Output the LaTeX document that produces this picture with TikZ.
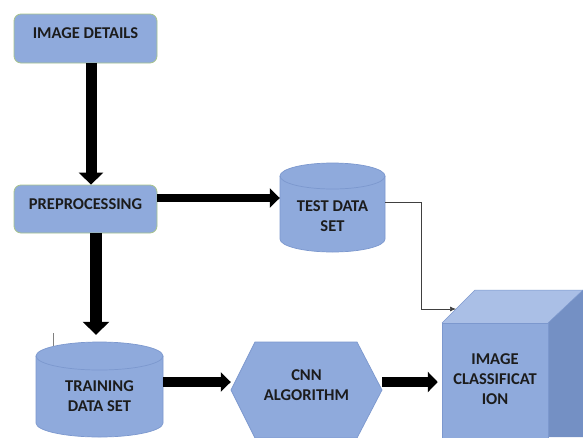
\documentclass[tikz,border=0pt]{standalone}
\usepackage{fontspec}
\setmainfont{Carlito}
\usetikzlibrary{arrows.meta,calc}
\definecolor{boxblue}{HTML}{8FAADC}
\definecolor{boxtop}{HTML}{AABFE6}
\definecolor{boxside}{HTML}{7490C4}
\definecolor{cylline}{HTML}{7C98CE}
\definecolor{greenline}{HTML}{A9C48C}
\definecolor{txt}{HTML}{1C1C1C}
\begin{document}
\begin{tikzpicture}[x=1pt,y=-1pt,
  rbox/.style={draw=greenline,line width=0.8pt,fill=boxblue,rounded corners=7pt,minimum width=143pt,minimum height=49pt,inner sep=0pt},
  anchorbox/.style={inner sep=0pt,draw=none},
  lbl/.style={font=\fontsize{16.5}{20}\selectfont\bfseries,text=txt,align=center,inner sep=0pt},
  shape3d/.style={fill=boxblue,draw=cylline,line width=0.7pt},
  bigarrow/.style={line width=#1,-{Triangle[length=12pt,width=24pt]}},
  thinarrow/.style={draw=black!75,line width=0.7pt,-{Latex[length=6pt,width=5pt]}}]
\path[use as bounding box,fill=white] (0,0) rectangle (583,437);

% rounded boxes
\node[rbox] (details) at (85.5,38.5) {};
\node[lbl] at ([yshift=5pt]details.center) {IMAGE DETAILS};
\node[rbox,minimum height=48pt] (prep) at (85.5,209) {};
\node[lbl] at ([yshift=5pt]prep.center) {PREPROCESSING};

% test data set cylinder
\path[shape3d] (280,176) -- (280,239) arc(180:0:52.5 and 13) -- (385,176) arc(0:-180:52.5 and 13) -- cycle;
\draw[cylline,line width=0.7pt] (280,176) arc(180:0:52.5 and 13);
\node[anchorbox,minimum width=105pt,minimum height=89pt] (test) at (332.5,207.5) {};
\node[lbl] at ([yshift=-9pt]test.center) {TEST DATA\\SET};

% training data set cylinder
\path[shape3d] (36,356) -- (36,423) arc(180:0:63.5 and 14) -- (163,356) arc(0:-180:63.5 and 14) -- cycle;
\draw[cylline,line width=0.7pt] (36,356) arc(180:0:63.5 and 14);
\node[anchorbox,minimum width=127pt,minimum height=95pt] (train) at (99.5,389.5) {};
\node[lbl] at ([yshift=-7pt]train.center) {TRAINING\\DATA SET};
\draw[gray,line width=0.5pt] (53,333) -- (53,346);

% CNN hexagon
\path[shape3d] (231,390) -- (255,342) -- (357,342) -- (382,390) -- (357,438) -- (255,438) -- cycle;
\node[anchorbox,minimum width=151pt,minimum height=96pt] (cnn) at (306.5,390) {};
\node[lbl] at ([yshift=5pt]cnn.center) {CNN\\ALGORITHM};

% cube
\fill[boxtop] (442,323) -- (475,290) -- (583,290) -- (548,323) -- cycle;
\fill[boxside] (548,323) -- (583,290) -- (583,437) -- (548,437) -- cycle;
\draw[cylline,line width=0.5pt] (442,323) -- (475,290) -- (583,290);
\draw[cylline,line width=0.5pt] (548,323) -- (583,290);
\node[anchorbox,fill=boxblue,draw=cylline,line width=0.5pt,minimum width=106pt,minimum height=116pt] (cube) at (495,381) {};
\coordinate (cubetop) at (456,309);
\node[lbl] at ([yshift=2pt]cube.center) {IMAGE\\CLASSIFICAT\\ION};

% connectors
\draw[bigarrow=11pt] ([xshift=5.5pt]details.south) -- ([xshift=5.5pt]details.south |- prep.north);
\draw[bigarrow=8pt,-{Triangle[length=10pt,width=19pt]}] ([yshift=11pt]prep.east) -- ([yshift=11pt]prep.east -| test.west);
\draw[bigarrow=12pt,shorten >=7pt,-{Triangle[length=13pt,width=26pt]}] ([xshift=10.5pt]prep.south) -- ([xshift=10.5pt]prep.south |- train.north);
\draw[bigarrow=10pt,-{Triangle[length=10pt,width=19pt]}] ([yshift=7.5pt]train.east) -- ([yshift=7.5pt]train.east -| cnn.west);
\draw[bigarrow=10pt,shorten >=4pt,-{Triangle[length=10pt,width=20pt]}] ([yshift=8pt]cnn.east) -- ([yshift=8pt]cnn.east -| cube.west);
\draw[thinarrow] ([yshift=5.5pt]test.east) -- ++(36,0) |- (cubetop);
\end{tikzpicture}
\end{document}
